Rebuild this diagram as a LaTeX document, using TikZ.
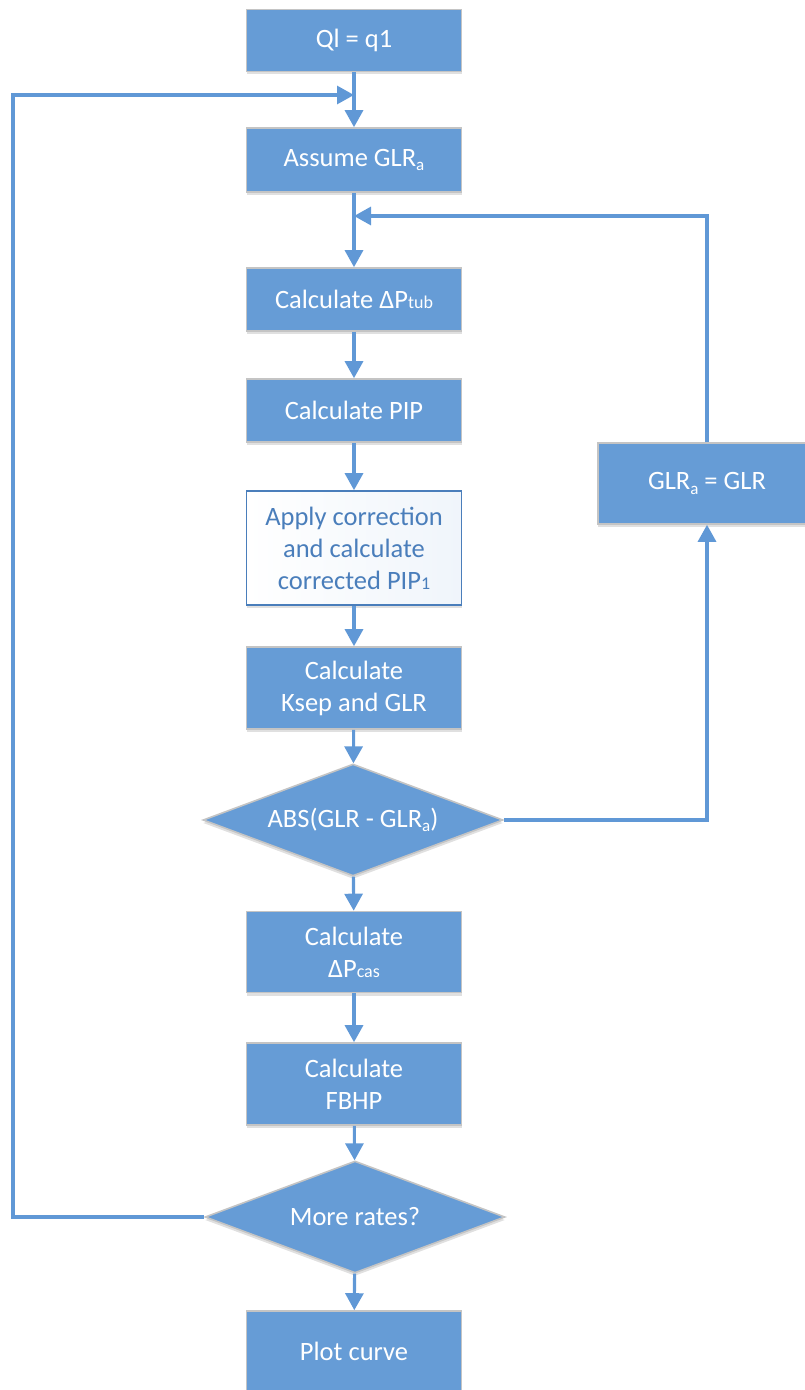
\documentclass[tikz,border=0pt]{standalone}
\usepackage{fontspec}
\setmainfont{Carlito}
\usetikzlibrary{arrows.meta,shapes.geometric,shadows}
\definecolor{boxblue}{RGB}{102,156,214}
\definecolor{linkblue}{RGB}{96,152,214}
\definecolor{edgegray}{RGB}{196,196,196}
\definecolor{txtblue}{RGB}{74,126,187}
\newcommand\lowsub[1]{\raisebox{-0.35ex}{\fontsize{17bp}{17bp}\selectfont #1}}
\newcommand\smsub[1]{{\fontsize{18bp}{18bp}\selectfont #1}}
\tikzset{
  base/.style={font=\fontsize{26.5bp}{32bp}\selectfont, align=center, inner sep=0pt,
    drop shadow={shadow xshift=0bp, shadow yshift=-3bp, opacity=0.12, fill=black}},
  procbox/.style={base, rectangle, fill=boxblue, draw=edgegray, line width=1.6bp,
    text=white, minimum width=215bp},
  whitebox/.style={base, rectangle, draw=txtblue, line width=1.6bp, text=txtblue,
    left color=white, right color=boxblue!10, minimum width=215bp},
  decbox/.style={base, diamond, fill=boxblue, draw=edgegray, line width=1.6bp,
    text=white, minimum width=300bp, minimum height=112bp, aspect=2.68},
  link/.style={draw=linkblue, line width=3.1bp},
  arr/.style={link, -{Triangle[length=17bp,width=18bp]}}
}
\begin{document}
\begin{tikzpicture}[x=1bp,y=-1bp]
\useasboundingbox (0,0) rectangle (804,1390);
\node[procbox, minimum height=62bp] (b1) at (354,40.5) {Ql = q1};
\node[procbox, minimum height=64bp] (b2) at (354,160) {Assume GLR\lowsub{a}};
\node[procbox, minimum height=63bp] (b3) at (354,299.5) {Calculate ΔP\smsub{tub}};
\node[procbox, minimum height=63bp] (b4) at (354,410.5) {Calculate PIP};
\node[whitebox, minimum height=114bp] (b5) at (354,548) {Apply correction\\and calculate\\corrected PIP\smsub{1}};
\node[procbox, minimum height=82bp] (b6) at (354,688) {Calculate\\Ksep and GLR};
\node[decbox] (d1) at (353,820) {ABS(GLR - GLR\lowsub{a})};
\node[procbox, minimum height=81bp] (b8) at (354,952) {Calculate\\ΔP\smsub{cas}};
\node[procbox, minimum height=82bp] (b9) at (354,1084) {Calculate\\FBHP};
\node[decbox] (d2) at (355,1217) {More rates?};
\node[procbox, minimum height=80bp] (b11) at (354,1351) {Plot curve};
\node[procbox, minimum height=81bp, minimum width=218bp] (br) at (707,483.5) {GLR\lowsub{a} = GLR};

\coordinate (m1) at (354,95);
\coordinate (cl) at (13,95);
\coordinate (m2) at (354,216);

\draw[arr] (b1) -- (b2);
\draw[arr] (b2) -- (b3);
\draw[arr] (b3) -- (b4);
\draw[arr] (b4) -- (b5);
\draw[arr] (b5) -- (b6);
\draw[arr] (b6) -- (d1);
\draw[arr] (d1) -- (b8);
\draw[arr] (b8) -- (b9);
\draw[arr] (b9) -- (d2);
\draw[arr] (d2) -- (b11);
\draw[arr] (d2.west) -| (cl) -- (m1);
\draw[arr] (br.north) |- (m2);
\draw[arr] (d1.east) -| (br.south);
\end{tikzpicture}
\end{document}
